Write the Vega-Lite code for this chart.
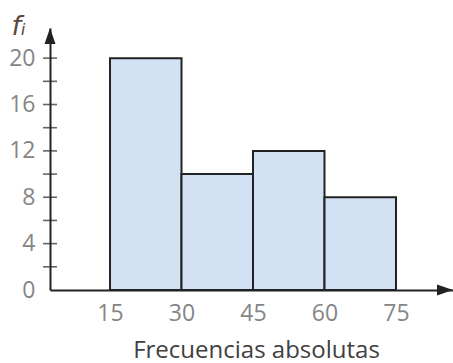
{
  "$schema": "https://vega.github.io/schema/vega-lite/v6.json",
  "width": 403,
  "height": 262,
  "autosize": {"type": "none"},
  "padding": {"left": 50, "top": 28, "right": 0, "bottom": 73},
  "background": "white",
  "config": {"view": {"stroke": null}, "font": "Open Sans"},
  "datasets": {
    "bins": [
      {"desde": 15, "hasta": 30, "fi": 20},
      {"desde": 30, "hasta": 45, "fi": 10},
      {"desde": 45, "hasta": 60, "fi": 12},
      {"desde": 60, "hasta": 75, "fi": 8}
    ],
    "marcas": [
      {"v": 2}, {"v": 4}, {"v": 6}, {"v": 8}, {"v": 10},
      {"v": 12}, {"v": 14}, {"v": 16}, {"v": 18}, {"v": 20}
    ]
  },
  "layer": [
    {
      "data": {"name": "bins"},
      "mark": {"type": "bar", "fill": "#d3e1f4", "stroke": "#222222", "strokeWidth": 2},
      "encoding": {
        "x": {
          "field": "desde", "type": "quantitative",
          "scale": {"domain": [2.41, 86.96], "nice": false, "zero": false},
          "axis": {
            "values": [15, 30, 45, 60, 75],
            "ticks": false, "grid": false,
            "domain": true, "domainColor": "#222222", "domainWidth": 2,
            "labelFont": "Open Sans", "labelFontSize": 23, "labelColor": "#858585",
            "labelPadding": 12, "labelFlush": false,
            "title": "Frecuencias absolutas",
            "titleFont": "Open Sans", "titleFontSize": 24, "titleFontWeight": "normal",
            "titleColor": "#404040", "titleX": 206, "titleY": 67,
            "titleBaseline": "alphabetic", "titleAlign": "center"
          }
        },
        "x2": {"field": "hasta"},
        "y": {
          "field": "fi", "type": "quantitative",
          "scale": {"domain": [0, 22.6], "nice": false},
          "axis": {
            "values": [0, 4, 8, 12, 16, 20],
            "ticks": false, "grid": false,
            "domain": true, "domainColor": "#222222", "domainWidth": 2,
            "labelFont": "Open Sans", "labelFontSize": 23, "labelColor": "#858585",
            "labelPadding": 15, "labelFlush": false,
            "title": "fᵢ",
            "titleFont": "DejaVu Sans", "titleFontStyle": "italic", "titleFontSize": 27,
            "titleFontWeight": "normal", "titleColor": "#5a4a44",
            "titleAngle": 0, "titleAlign": "left", "titleBaseline": "alphabetic",
            "titleX": -39, "titleY": 6
          }
        },
        "y2": {"datum": 0}
      }
    },
    {
      "data": {"name": "marcas"},
      "mark": {"type": "tick", "orient": "horizontal", "color": "#222222", "size": 14, "thickness": 1.6},
      "encoding": {
        "x": {"datum": 2.41, "type": "quantitative"},
        "y": {"field": "v", "type": "quantitative"}
      }
    },
    {
      "data": {"values": [{}]},
      "mark": {"type": "point", "filled": true, "color": "#222222", "opacity": 1, "size": 400,
               "shape": "M0,0L-0.55,1.6L0.55,1.6Z", "strokeWidth": 0},
      "encoding": {
        "x": {"datum": 2.41, "type": "quantitative"},
        "y": {"datum": 22.6, "type": "quantitative"}
      }
    },
    {
      "data": {"values": [{}]},
      "mark": {"type": "point", "filled": true, "color": "#222222", "opacity": 1, "size": 400,
               "shape": "M0,0L-1.6,-0.55L-1.6,0.55Z", "strokeWidth": 0},
      "encoding": {
        "x": {"datum": 86.96, "type": "quantitative"},
        "y": {"datum": 0, "type": "quantitative"}
      }
    }
  ]
}
